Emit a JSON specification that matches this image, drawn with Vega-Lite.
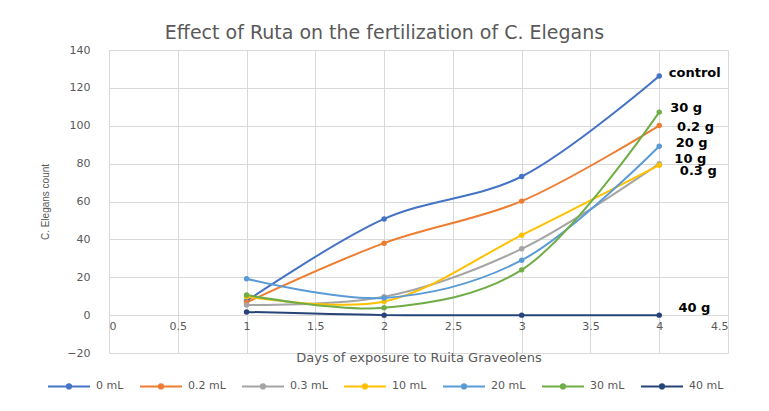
{
  "$schema": "https://vega.github.io/schema/vega-lite/v6.json",
  "width": 619,
  "height": 303,
  "autosize": {"type": "none"},
  "padding": {"left": 109, "top": 50, "right": 41, "bottom": 58},
  "background": "white",
  "title": {
    "text": "Effect of Ruta on the fertilization of C. Elegans",
    "font": "DejaVu Sans",
    "fontSize": 19,
    "fontWeight": "normal",
    "color": "#595959",
    "dx": -34,
    "offset": 1
  },
  "config": {
    "view": {"stroke": null},
    "axis": {
      "labelFont": "DejaVu Sans",
      "labelFontSize": 11,
      "labelColor": "#595959",
      "labelOverlap": false,
      "gridColor": "#d9d9d9",
      "gridWidth": 1,
      "domain": false,
      "ticks": false,
      "tickSize": 0,
      "titleFont": "Liberation Sans",
      "titleFontWeight": "normal",
      "titleColor": "#595959"
    }
  },
  "encoding": {
    "x": {
      "field": "day",
      "type": "quantitative",
      "scale": {"domain": [0, 4.5], "nice": false, "zero": false},
      "axis": {
        "values": [0, 0.5, 1, 1.5, 2, 2.5, 3, 3.5, 4, 4.5],
        "format": "~g",
        "offset": -38,
        "labelPadding": 5,
        "title": "Days of exposure to Ruita Graveolens",
        "titleFont": "DejaVu Sans",
        "titleFontSize": 13,
        "titlePadding": 20
      }
    },
    "y": {
      "field": "count",
      "type": "quantitative",
      "scale": {"domain": [-20, 140], "nice": false},
      "axis": {
        "values": [-20, 0, 20, 40, 60, 80, 100, 120, 140],
        "format": "d",
        "labelPadding": 19,
        "title": "C. Elegans count",
        "titleFontSize": 10,
        "titlePadding": 16
      }
    }
  },
  "layer": [
    {
      "data": {
        "values": [
          {"series": "0 mL", "day": 1, "count": 7.5},
          {"series": "0 mL", "day": 2, "count": 50.8},
          {"series": "0 mL", "day": 3, "count": 73.2},
          {"series": "0 mL", "day": 4, "count": 126.3},
          {"series": "0.2 mL", "day": 1, "count": 6.7},
          {"series": "0.2 mL", "day": 2, "count": 38},
          {"series": "0.2 mL", "day": 3, "count": 60.2},
          {"series": "0.2 mL", "day": 4, "count": 100.1},
          {"series": "0.3 mL", "day": 1, "count": 5.4},
          {"series": "0.3 mL", "day": 2, "count": 9.7},
          {"series": "0.3 mL", "day": 3, "count": 35},
          {"series": "0.3 mL", "day": 4, "count": 80},
          {"series": "10 mL", "day": 1, "count": 9.7},
          {"series": "10 mL", "day": 2, "count": 7.2},
          {"series": "10 mL", "day": 3, "count": 42.2},
          {"series": "10 mL", "day": 4, "count": 79.2},
          {"series": "20 mL", "day": 1, "count": 19.2},
          {"series": "20 mL", "day": 2, "count": 9.1},
          {"series": "20 mL", "day": 3, "count": 29},
          {"series": "20 mL", "day": 4, "count": 89.2},
          {"series": "30 mL", "day": 1, "count": 10.6},
          {"series": "30 mL", "day": 2, "count": 3.9},
          {"series": "30 mL", "day": 3, "count": 23.9},
          {"series": "30 mL", "day": 4, "count": 107.2},
          {"series": "40 mL", "day": 1, "count": 1.7},
          {"series": "40 mL", "day": 2, "count": 0},
          {"series": "40 mL", "day": 3, "count": 0},
          {"series": "40 mL", "day": 4, "count": 0}
        ]
      },
      "mark": {
        "type": "line",
        "interpolate": "catmull-rom",
        "strokeWidth": 2,
        "point": {"filled": true, "size": 30}
      },
      "encoding": {
        "color": {
          "field": "series",
          "type": "nominal",
          "scale": {
            "domain": ["0 mL", "0.2 mL", "0.3 mL", "10 mL", "20 mL", "30 mL", "40 mL"],
            "range": ["#4472C4", "#ED7D31", "#A5A5A5", "#FFC000", "#5B9BD5", "#70AD47", "#264478"]
          },
          "legend": {
            "title": null,
            "orient": "none",
            "direction": "horizontal",
            "legendX": -62,
            "legendY": 314,
            "symbolType": "M-1,0H1M-0.1,0A0.1,0.1 0 1,0 0.1,0A0.1,0.1 0 1,0 -0.1,0Z",
            "symbolSize": 1764,
            "symbolStrokeWidth": 2,
            "labelFont": "DejaVu Sans",
            "labelFontSize": 11,
            "labelColor": "#595959",
            "labelOffset": 5,
            "columnPadding": 12
          }
        }
      }
    },
    {
      "data": {
        "values": [
          {"label": "control", "day": 4.07, "count": 128},
          {"label": "30 g", "day": 4.08, "count": 109.6},
          {"label": "0.2 g", "day": 4.13, "count": 99.6},
          {"label": "20 g", "day": 4.12, "count": 90.8},
          {"label": "10 g", "day": 4.11, "count": 82.5},
          {"label": "0.3 g", "day": 4.15, "count": 76.2},
          {"label": "40 g", "day": 4.14, "count": 3.9}
        ]
      },
      "mark": {
        "type": "text",
        "align": "left",
        "baseline": "middle",
        "font": "DejaVu Sans",
        "fontWeight": "bold",
        "fontSize": 13,
        "color": "black"
      },
      "encoding": {
        "text": {"field": "label"}
      }
    }
  ]
}
